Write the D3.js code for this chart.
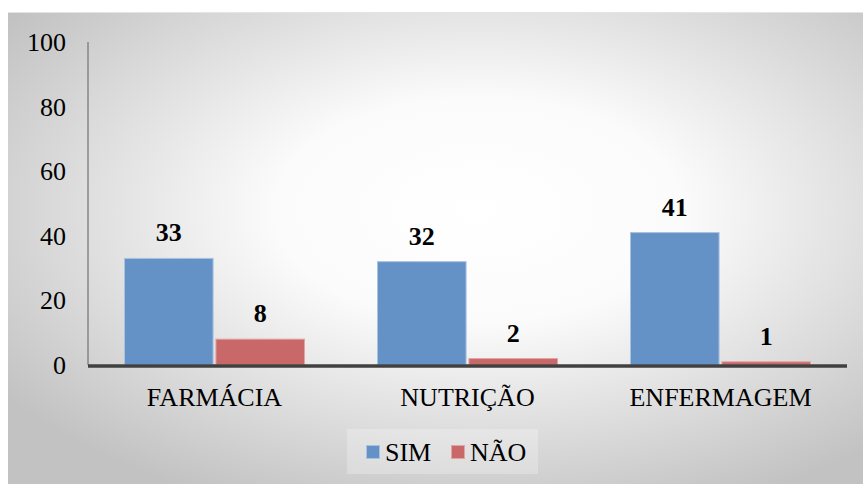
<!DOCTYPE html>
<html>
<head>
<meta charset="utf-8">
<script src="https://cdn.jsdelivr.net/npm/d3@7"></script>
</head>
<body style="margin:0">
<svg id="s" width="863" height="484"></svg>
<script>
// Course categories and answer counts
const categories = ["FARMÁCIA", "NUTRIÇÃO", "ENFERMAGEM"];
const seriesNames = ["SIM", "NÃO"];
const simValues = [33, 32, 41];
const naoValues = [8, 2, 1];
const yTicks = [0, 20, 40, 60, 80, 100];

const colors = { "SIM": "#6592c6", "NÃO": "#c96869" };
const strokes = { "SIM": "#a9c2e2", "NÃO": "#e4a3a3" };

const rows = categories.map((c, i) => ({ category: c, SIM: simValues[i], "NÃO": naoValues[i] }));

const svg = d3.select("#s");
const W = 863, H = 484;

// Background panel with radial shading
const defs = svg.append("defs");
const grad = defs.append("radialGradient")
  .attr("id", "bg")
  .attr("cx", "0.55").attr("cy", "0.42").attr("r", "0.68");
grad.append("stop").attr("offset", "0").attr("stop-color", "#ffffff");
grad.append("stop").attr("offset", "0.35").attr("stop-color", "#fbfbfb");
grad.append("stop").attr("offset", "1").attr("stop-color", "#c2c2c2");

svg.append("rect")
  .attr("x", 8).attr("y", 12).attr("width", W - 8).attr("height", H - 12)
  .attr("fill", "url(#bg)");
svg.append("line")
  .attr("x1", 8).attr("x2", W).attr("y1", 12.5).attr("y2", 12.5)
  .attr("stroke", "#e4e4e4");

// Plot area
const plotLeft = 88, plotRight = 847, plotTop = 42, plotBottom = 365;

const y = d3.scaleLinear().domain([0, 100]).range([plotBottom, plotTop]);
const x0 = d3.scaleBand().domain(categories).range([plotLeft, plotRight]);
const x1 = d3.scaleBand().domain(seriesNames)
  .range([36, x0.bandwidth() - 36]).paddingInner(0.02);

// Y axis line and tick labels
svg.append("line")
  .attr("x1", plotLeft).attr("x2", plotLeft)
  .attr("y1", y(100)).attr("y2", y(0))
  .attr("stroke", "#868686").attr("stroke-width", 1.5);
svg.selectAll("text.ytick")
  .data(yTicks).join("text")
  .attr("class", "ytick")
  .attr("x", plotLeft - 22)
  .attr("y", d => y(d) + 9)
  .attr("text-anchor", "end")
  .style("font-family", d => "'Liberation Serif'")
  .attr("font-size", 26)
  .text(d => d);

// Bars
const groups = svg.append("g").selectAll("g")
  .data(rows).join("g")
  .attr("transform", d => `translate(${x0(d.category)},0)`);

groups.selectAll("rect")
  .data(d => seriesNames.map(s => ({ key: s, value: d[s] })))
  .join("rect")
  .attr("x", d => x1(d.key) + 0.5)
  .attr("width", x1.bandwidth() - 1)
  .attr("y", d => y(d.value))
  .attr("height", d => y(0) - y(d.value))
  .attr("fill", d => colors[d.key])
  .attr("stroke", d => strokes[d.key]);

// Value labels
groups.selectAll("text")
  .data(d => seriesNames.map(s => ({ key: s, value: d[s] })))
  .join("text")
  .attr("x", d => x1(d.key) + x1.bandwidth() / 2)
  .attr("y", d => y(d.value) - 17)
  .attr("text-anchor", "middle")
  .style("font-family", d => "'Liberation Serif'")
  .attr("font-size", 26)
  .attr("font-weight", "bold")
  .text(d => d.value);

// X axis baseline and category labels
svg.append("line")
  .attr("x1", plotLeft).attr("x2", plotRight)
  .attr("y1", plotBottom + 1).attr("y2", plotBottom + 1)
  .attr("stroke", "#404040").attr("stroke-width", 3.5);
svg.selectAll("text.xtick")
  .data(categories).join("text")
  .attr("class", "xtick")
  .attr("x", d => x0(d) + x0.bandwidth() / 2)
  .attr("y", 406)
  .attr("text-anchor", "middle")
  .style("font-family", d => "'Liberation Serif'")
  .attr("font-size", 26)
  .text(d => d);

// Legend
svg.append("rect")
  .attr("x", 347).attr("y", 429).attr("width", 191).attr("height", 45)
  .attr("fill", "#ffffff").attr("opacity", 0.25);
const legendX = [366, 451];
svg.selectAll("rect.key")
  .data(seriesNames).join("rect")
  .attr("class", "key")
  .attr("x", (d, i) => legendX[i] + 0.5).attr("y", 445.5)
  .attr("width", 13).attr("height", 13)
  .attr("fill", d => colors[d])
  .attr("stroke", d => strokes[d]);
svg.selectAll("text.key")
  .data(seriesNames).join("text")
  .attr("class", "key")
  .attr("x", (d, i) => legendX[i] + 19).attr("y", 461)
  .style("font-family", d => "'Liberation Serif'")
  .attr("font-size", 26)
  .text(d => d);
</script>
</body>
</html>
